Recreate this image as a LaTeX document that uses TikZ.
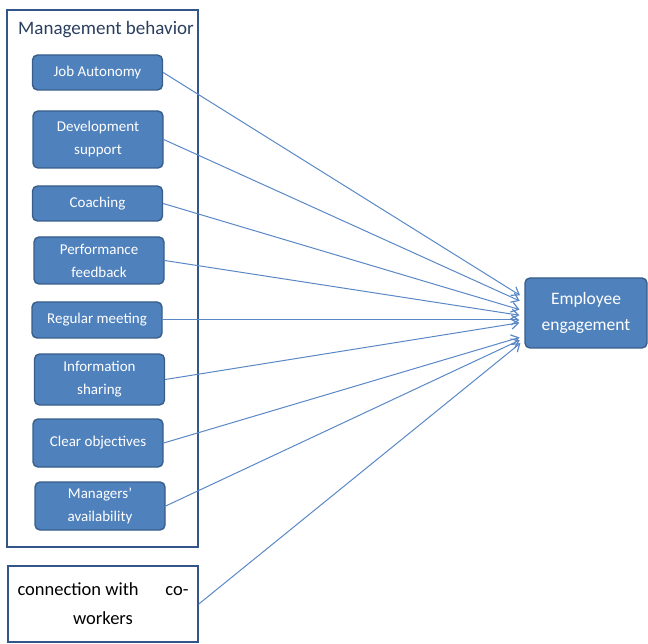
\documentclass[tikz,border=0pt]{standalone}
\usepackage{fontspec}
\setmainfont{Carlito}
\usepackage{xcolor}
\usepackage{tikz}
\usetikzlibrary{arrows.meta,positioning,calc}

\definecolor{boxblue}{HTML}{4F81BD}
\definecolor{boxedge}{HTML}{385D8A}
\definecolor{frameblue}{HTML}{34558A}
\definecolor{linkblue}{HTML}{5A88C6}
\definecolor{titlegray}{HTML}{2A3F5F}

\begin{document}
\begin{tikzpicture}[
  x=1pt,y=1pt,
  factor/.style={rectangle,rounded corners=5pt,draw=boxedge,line width=1.4pt,fill=boxblue,
    text=white,minimum width=130pt,align=center,inner sep=2pt,
    font=\fontsize{15}{23}\selectfont},
  link/.style={-{Straight Barb[length=7pt,width=10pt,line width=1.2pt]},linkblue,line width=1pt,shorten >=5pt},
]
\useasboundingbox (0,0) rectangle (648,-644);

% Frame
\draw[frameblue,line width=1.4pt] (7,-10) rectangle (198,-547);
\node[text=titlegray,font=\fontsize{19}{23}\selectfont] (title) at (106,-30) {Management behavior};

% Factors
\node[factor,minimum height=35pt] (ja) at (97.5,-72.5) {Job Autonomy};
\node[factor,minimum height=57pt] (ds) at (98,-139.5) {Development\\support};
\node[factor,minimum height=35pt] (co) at (97.5,-203.5) {Coaching};
\node[factor,minimum height=47pt] (pf) at (99,-260.5) {Performance\\feedback};
\node[factor,minimum height=36pt] (rm) at (97,-320) {Regular meeting};
\node[factor,minimum height=51pt] (is) at (99.5,-379.5) {Information\\sharing};
\node[factor,minimum height=48pt] (cl) at (98,-443) {Clear objectives};
\node[factor,minimum height=48pt] (ma) at (100,-506) {Managers'\\availability};

% Outcome
\node[factor,minimum width=122pt,minimum height=70pt,font=\fontsize{17.5}{26}\selectfont] (ee) at (586,-313) {Employee\\engagement};

% Co-workers
\node[rectangle,draw=frameblue,line width=1.6pt,minimum width=190pt,minimum height=76pt,
  align=center,font=\fontsize{18.5}{29}\selectfont] (cw) at (103,-604)
  {\makebox[171pt][s]{connection with\hfill co-}\\workers};

% Arrows
\draw[link] (ja.east) -- ([yshift=15pt]ee.west);
\draw[link] (ds.east) -- ([yshift=10pt]ee.west);
\draw[link] (co.east) -- ([yshift=2pt]ee.west);
\draw[link] (pf.east) -- ([yshift=-3pt]ee.west);
\draw[link] (rm.east) -- ([yshift=-7pt]ee.west);
\draw[link] (is.east) -- ([yshift=-9pt]ee.west);
\draw[link] (cl.east) -- ([yshift=-23pt]ee.west);
\draw[link] (ma.east) -- ([yshift=-25pt]ee.west);
\draw[link] (cw.east) -- ([yshift=-27pt]ee.west);

\end{tikzpicture}
\end{document}
